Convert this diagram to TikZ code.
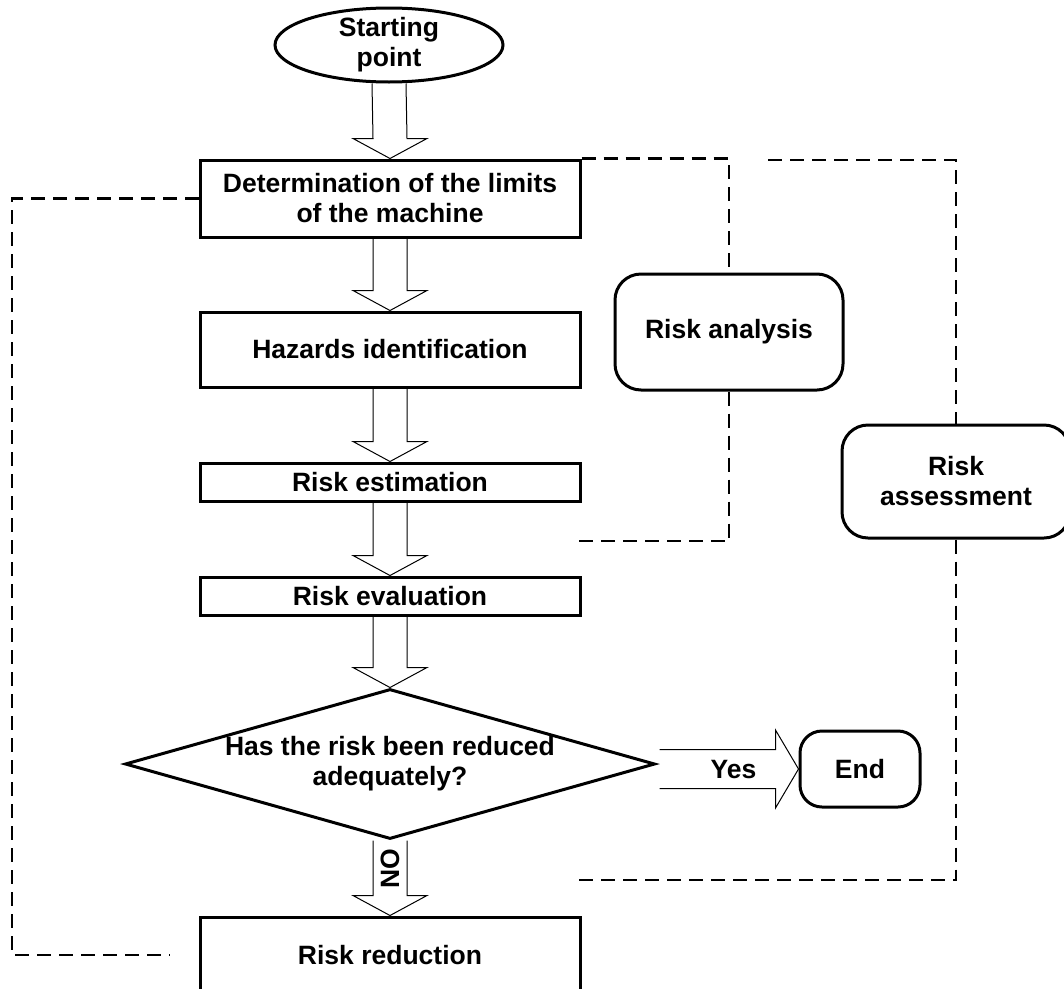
\documentclass[tikz,border=0pt]{standalone}
\usepackage{fontspec}
\setmainfont{Liberation Sans}
\usetikzlibrary{shapes.geometric,calc}

\tikzset{
stepbox/.style={draw,rectangle,line width=3pt,minimum width=380pt,inner sep=0pt,align=center},
roundbox/.style={draw,rectangle,line width=3pt,rounded corners=26pt,inner sep=0pt,align=center},
grpline/.style={line width=2.5pt,dash pattern=on 14pt off 8pt},
arrowline/.style={line width=1pt}}

% hollow arrow, downwards from #1 to #2
\newcommand{\flowdown}[2]{%
  \draw[arrowline] ($(#1.south)+(-17,0)$) -- ($(#2.north)+(-17,-20)$)
    -- ($(#2.north)+(-37,-20)$) -- (#2.north) -- ($(#2.north)+(37,-20)$)
    -- ($(#2.north)+(17,-20)$) -- ($(#1.south)+(17,0)$);}
% hollow arrow, to the right from #1 to #2
\newcommand{\flowright}[2]{%
  \draw[arrowline] ($(#1.east |- #2.west)+(3,-19.5)$) -- ($(#2.west)+(-23,-19.5)$)
    -- ($(#2.west)+(-23,-39)$) -- (#2.west) -- ($(#2.west)+(-23,39)$)
    -- ($(#2.west)+(-23,19.5)$) -- ($(#1.east |- #2.west)+(3,19.5)$);}

\begin{document}
\begin{tikzpicture}
  [x=1pt,y=-1pt,
   every node/.style={font=\fontsize{26.5}{30}\selectfont\bfseries}]
  \useasboundingbox (0,0) rectangle (1064,988);

  \node[draw,ellipse,line width=3pt,minimum width=228pt,minimum height=74pt,
        inner sep=-3pt,align=center] (start) at (389,45) {Starting\\point};
  \node[stepbox,minimum height=77pt] (limits) at (390,198.5) {Determination of the limits\\of the machine};
  \node[stepbox,minimum height=75pt] (hazards) at (390,349.5) {Hazards identification};
  \node[stepbox,minimum height=38pt] (estim) at (390,482) {Risk estimation};
  \node[stepbox,minimum height=38pt] (evalu) at (390,596) {Risk evaluation};
  \node[draw,diamond,line width=3pt,aspect=3.53,inner sep=0pt,minimum width=530pt,
        minimum height=150pt,align=center] (decide) at (390,764) {Has the risk been reduced\\adequately?};
  \node[stepbox,minimum height=76pt] (reduce) at (390,955) {Risk reduction};
  \node[roundbox,rounded corners=22pt,minimum width=120pt,minimum height=76pt] (end) at (860,769) {End};
  \node[roundbox,minimum width=228pt,minimum height=116pt] (analysis) at (729,332) {Risk analysis};
  \node[roundbox,minimum width=228pt,minimum height=113pt] (assess) at (956,481.5) {Risk\\assessment};

  \flowdown{start}{limits}
  \flowdown{limits}{hazards}
  \flowdown{hazards}{estim}
  \flowdown{estim}{evalu}
  \flowdown{evalu}{decide}
  \flowdown{decide}{reduce}
  \flowright{decide}{end}

  \node (yes) at ($(decide.east |- end.west)+(77,0)$) {Yes};
  \node[rotate=90] (no) at ($(decide.south)+(0,28)$) {NO};

  % grouping lines
  \coordinate (anaEnd) at (577,541);
  \coordinate (assTop) at (768,160);
  \coordinate (assEnd) at (577,880);
  \coordinate (leftBend) at (12,955);
  \coordinate (leftEnd) at (170,955);
  \draw[grpline] (limits.north east) -| (analysis.north);
  \draw[grpline] (analysis.south) |- (anaEnd);
  \draw[grpline] (assTop) -| (assess.north);
  \draw[grpline] (assess.south) |- (assEnd);
  \draw[grpline] (limits.west) -| (leftBend) -- (leftEnd);
\end{tikzpicture}
\end{document}
